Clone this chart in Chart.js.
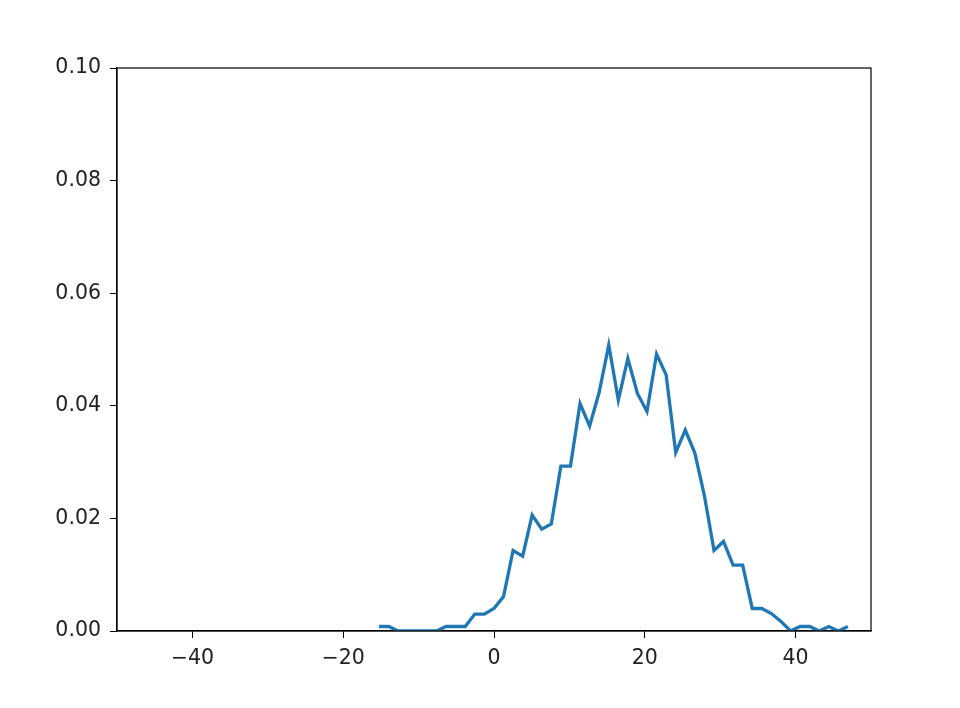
<!DOCTYPE html>
<html>
<head>
<meta charset="utf-8">
<script src="https://cdn.jsdelivr.net/npm/chart.js@4/dist/chart.umd.min.js"></script>
<style>
    html, body { margin: 0; padding: 0; background: #fff; }
    #wrap { width: 960px; height: 708px; }
</style>
</head>
<body>
<div id="wrap"><canvas id="densityChart"></canvas></div>
<script>
// ================= DATA =================
const binCenters = [
    -15.24, -13.97, -12.70, -11.43, -10.16, -8.90, -7.63, -6.36, -5.09, -3.82,
    -2.55, -1.28, -0.01, 1.26, 2.53, 3.80, 5.06, 6.33, 7.60, 8.87,
    10.14, 11.41, 12.68, 13.95, 15.22, 16.49, 17.75, 19.02, 20.29, 21.56,
    22.83, 24.10, 25.37, 26.64, 27.91, 29.18, 30.44, 31.71, 32.98, 34.25,
    35.52, 36.79, 38.06, 39.33, 40.60, 41.87, 43.13, 44.40, 45.67, 46.94
];
const density = [
    0.0008, 0.0008, 0, 0, 0, 0, 0, 0.0008, 0.0008, 0.0008,
    0.0030, 0.0030, 0.0040, 0.0061, 0.0143, 0.0133, 0.0206, 0.0181, 0.0190, 0.0293,
    0.0293, 0.0404, 0.0364, 0.0424, 0.0508, 0.0410, 0.0484, 0.0422, 0.0390, 0.0492,
    0.0455, 0.0317, 0.0357, 0.0316, 0.0240, 0.0143, 0.0159, 0.0117, 0.0117, 0.0040,
    0.0040, 0.0031, 0.0017, 0, 0.0008, 0.0008, 0, 0.0008, 0, 0.0008
];
const xTicks = [-40, -20, 0, 20, 40];
const yTicks = [0, 0.02, 0.04, 0.06, 0.08, 0.10];

const points = binCenters.map((x, i) => ({ x: x, y: density[i] }));

// frame around plot area (matplotlib style spines)
const frameBox = {
    id: "frameBox",
    afterDraw(chart) {
        const a = chart.chartArea, ctx = chart.ctx;
        ctx.save();
        ctx.strokeStyle = "#000";
        ctx.lineWidth = 1.2;
        ctx.strokeRect(a.left, a.top, a.right - a.left, a.bottom - a.top);
        ctx.restore();
    }
};

const tickFont = { family: "'DejaVu Sans'", size: 20.5 };

new Chart(document.getElementById("densityChart"), {
    type: "line",
    data: {
        datasets: [{
            data: points,
            borderColor: "#1f77b4",
            borderWidth: 3.3,
            pointRadius: 0,
            tension: 0,
            fill: false
        }]
    },
    options: {
        responsive: true,
        maintainAspectRatio: false,
        animation: false,
        layout: { padding: { top: 68, right: 89, bottom: 0, left: 0 } },
        plugins: { legend: { display: false }, tooltip: { enabled: false } },
        scales: {
            x: {
                type: "linear",
                min: -50,
                max: 50,
                afterBuildTicks: s => { s.ticks = xTicks.map(v => ({ value: v })); },
                afterFit: s => { s.height = 77; },
                ticks: {
                    color: "#222",
                    font: tickFont,
                    padding: 8,
                    maxRotation: 0,
                    callback: v => String(v).replace("-", "\u2212")
                },
                grid: { drawOnChartArea: false, drawTicks: true, tickLength: 7, color: "#000" },
                border: { color: "#000", width: 1.2 }
            },
            y: {
                min: 0,
                max: 0.1,
                afterBuildTicks: s => { s.ticks = yTicks.map(v => ({ value: v })); },
                afterFit: s => { s.width = 117; },
                ticks: {
                    color: "#222",
                    font: tickFont,
                    padding: 9,
                    callback: v => v.toFixed(2)
                },
                grid: { drawOnChartArea: false, drawTicks: true, tickLength: 7, color: "#000" },
                border: { color: "#000", width: 1.2 }
            }
        }
    },
    plugins: [frameBox]
});
</script>
</body>
</html>
